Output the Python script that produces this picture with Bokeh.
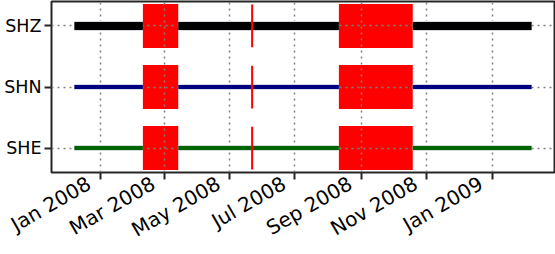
import math
import datetime as dt
from bokeh.plotting import figure
from bokeh.models import Range1d, FixedTicker, DatetimeTickFormatter
from bokeh.embed import file_html
from bokeh.resources import INLINE

# ---- data ----
channels = ["SHE", "SHN", "SHZ"]
channel_colors = ["#006400", "#000080", "#000000"]
channel_widths = [4, 4, 8]

data_start = dt.datetime(2007, 12, 8)
data_end = dt.datetime(2009, 2, 7)

gap_starts = [dt.datetime(2008, 2, 10), dt.datetime(2008, 8, 11)]
gap_ends = [dt.datetime(2008, 3, 14), dt.datetime(2008, 10, 19)]

marker_dates = [dt.datetime(2008, 5, 22)]

tick_dates = [dt.datetime(2008, 1, 1), dt.datetime(2008, 3, 1), dt.datetime(2008, 5, 1),
              dt.datetime(2008, 7, 1), dt.datetime(2008, 9, 1), dt.datetime(2008, 11, 1),
              dt.datetime(2009, 1, 1)]
tick_format = "%b %Y"


def ms(d):
    return (d - dt.datetime(1970, 1, 1)).total_seconds() * 1000.0


span = ms(data_end) - ms(data_start)
x_range = Range1d(ms(data_start) - 0.05 * span, ms(data_end) + 0.05 * span)
y_lo, y_hi = -0.4, 2.4

p = figure(width=555, height=254, x_axis_type="datetime", x_range=x_range,
           y_range=Range1d(y_lo, y_hi), output_backend="svg", toolbar_location=None,
           min_border_left=51, min_border_right=1, min_border_top=1, min_border_bottom=82)

p.background_fill_color = "white"
p.border_fill_color = "white"
p.outline_line_color = "#262626"
p.outline_line_width = 2

# gaps (below grid)
half_h = 0.36
for i, ch in enumerate(channels):
    r = p.quad(left=gap_starts, right=gap_ends, bottom=[i - half_h] * len(gap_starts),
               top=[i + half_h] * len(gap_starts), fill_color="red", line_color=None)
    r.level = "image"

# segments of data
seg_starts = [data_start] + gap_ends
seg_ends = gap_starts + [data_end]
for i, ch in enumerate(channels):
    p.segment(x0=seg_starts, x1=seg_ends, y0=[i] * len(seg_starts), y1=[i] * len(seg_starts),
              line_color="#d7dbe3", line_width=channel_widths[i] + 2, line_cap="butt")
    p.segment(x0=seg_starts, x1=seg_ends, y0=[i] * len(seg_starts), y1=[i] * len(seg_starts),
              line_color=channel_colors[i], line_width=channel_widths[i], line_cap="butt")

# marker lines
for i, ch in enumerate(channels):
    p.segment(x0=marker_dates, x1=marker_dates, y0=[i - 0.35] * len(marker_dates),
              y1=[i + 0.35] * len(marker_dates), line_color="red", line_width=2)

# axes
fmt = tick_format + "\u00a0\u00a0"
p.xaxis.ticker = FixedTicker(ticks=[ms(d) for d in tick_dates])
p.xaxis.formatter = DatetimeTickFormatter(months=fmt, days=fmt, years=fmt)
p.xaxis.major_label_orientation = math.pi / 6
p.yaxis.ticker = FixedTicker(ticks=list(range(len(channels))))
p.yaxis.major_label_overrides = {i: ch for i, ch in enumerate(channels)}

for ax in (p.xaxis, p.yaxis):
    ax.axis_line_color = None
    ax.major_tick_line_color = "#262626"
    ax.major_tick_line_width = 2
    ax.major_tick_out = 7
    ax.major_tick_in = 0
    ax.minor_tick_line_color = None
    ax.major_label_text_font = "DejaVu Sans"
    ax.major_label_text_color = "black"
p.yaxis.major_label_text_font_size = "17.5px"
p.yaxis.major_label_standoff = 3
p.xaxis.major_label_text_font_size = "20px"
p.xaxis.major_label_standoff = -4

for g in (p.xgrid, p.ygrid):
    g.grid_line_color = "#808080"
    g.grid_line_dash = "2 4"
    g.grid_line_width = 1.5
    g.level = "underlay"
p.xgrid.ticker = p.xaxis.ticker
p.ygrid.ticker = p.yaxis.ticker

open("out.html", "w").write(file_html(p, INLINE))
